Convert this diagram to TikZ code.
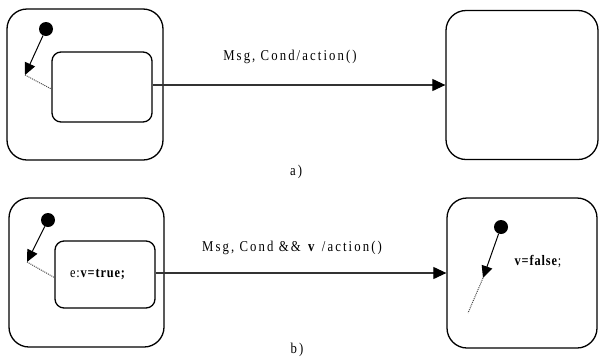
\documentclass[tikz,border=0pt]{standalone}
\usepackage{fontspec}
\setmainfont{Liberation Serif}[LetterSpace=14,FakeStretch=0.85]
\usetikzlibrary{arrows.meta}
\begin{document}
\begin{tikzpicture}[x=1pt,y=-1pt,
  stbox/.style={draw, line width=1.3pt, rounded corners=20pt, inner sep=0pt},
  inbox/.style={draw, line width=1.3pt, rounded corners=9pt, inner sep=0pt},
  dot/.style={circle, fill=black, minimum size=14pt, inner sep=0pt},
  init/.style={line width=1pt, -{Triangle[length=12pt,width=11pt]}},
  hist/.style={densely dotted, line width=1pt, black!70},
  trans/.style={line width=1.1pt, black!80, -{Triangle[length=13pt,width=12pt,fill=black,color=black]}},
  lbl/.style={font=\fontsize{15}{17}\selectfont, inner sep=0pt},
  act/.style={font=\fontsize{14.5}{17}\selectfont\addfontfeatures{LetterSpace=6}, inner sep=0pt}]
\useasboundingbox (0,0) rectangle (601,362);
% ---------- panel a ----------
\node[stbox, minimum width=156pt, minimum height=151pt] (outerA) at (85,84.5) {};
\node[inbox, minimum width=100pt, minimum height=70pt] (innerA) at (102,87) {};
\node[dot] (dotA) at (46,29) {};
\coordinate (tipA) at (25,75);
\draw[init] (dotA) -- (tipA);
\draw[hist] (tipA) -- ([yshift=-2pt]innerA.west);
\node[stbox, minimum width=152pt, minimum height=149pt] (rightA) at (522,85) {};
\draw[trans] (innerA.east |- rightA.west) -- (rightA.west);
\node[lbl] (lblA) at (290,57) {Msg, Cond/action()};
\node[lbl] (capA) at (296,172) {a)};
% ---------- panel b ----------
\node[stbox, minimum width=155pt, minimum height=149pt] (outerB) at (86.5,272.5) {};
\node[inbox, minimum width=100pt, minimum height=67pt] (innerB) at (105,274.5) {};
\node[act] (txtB) at (98,275) {e:\textbf{v=true;}};
\node[dot] (dotB) at (48,220) {};
\coordinate (tipB) at (27,262);
\draw[init] (dotB) -- (tipB);
\draw[hist] (tipB) -- ([yshift=-3pt]innerB.west);
\node[stbox, minimum width=150pt, minimum height=150pt] (rightB) at (522,273) {};
\draw[trans] (innerB.east |- rightB.west) -- (rightB.west);
\node[lbl] (lblB) at (292,248) {Msg, Cond \&\& \textbf{v} /action()};
\node[lbl] (capB) at (297,350) {b)};
\node[dot] (dotC) at (501,227) {};
\coordinate (tipC) at (483,278);
\coordinate (endC) at (468,313);
\draw[init] (dotC) -- (tipC);
\draw[hist] (tipC) -- (endC);
\node[act] (txtC) at (538,262) {\textbf{v=false};};
\end{tikzpicture}
\end{document}
